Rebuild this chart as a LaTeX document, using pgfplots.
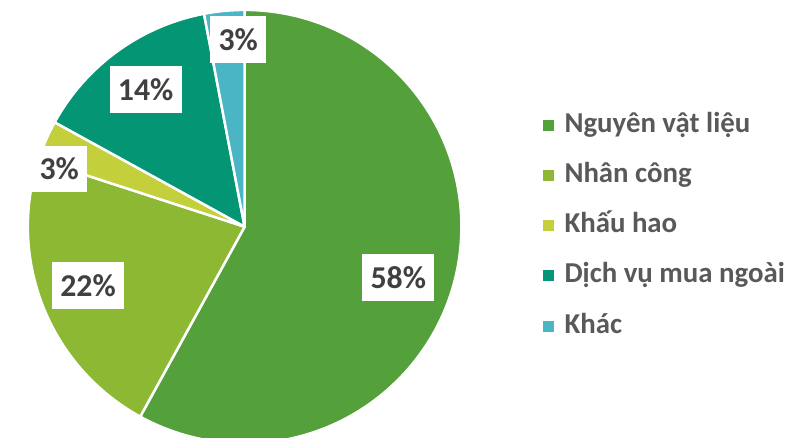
\documentclass[border=0pt]{standalone}
\usepackage{pgfplots}
\pgfplotsset{compat=1.18}
\usepackage{pgfplotstable}
\usepackage{fontspec}
\setmainfont{Carlito}
\definecolor{c0}{HTML}{54A03B}
\definecolor{c1}{HTML}{8CB834}
\definecolor{c2}{HTML}{C3CF3B}
\definecolor{c3}{HTML}{049674}
\definecolor{c4}{HTML}{4AB5C5}
\definecolor{lbl}{HTML}{404040}
\definecolor{leg}{HTML}{595959}

\begin{document}
% share (%), label box centre (px, y up)
\pgfplotstableread{
value lx ly
58 396 161
22 84 153
3 55 270
14 142 350
3 235 400
}\piedata

\xdef\cum{0}
\foreach \i in {0,...,4}{%
  \pgfplotstablegetelem{\i}{value}\of\piedata
  \xdef\v{\pgfplotsretval}%
  \pgfmathsetmacro\a{90-3.6*\cum}%
  \pgfmathsetmacro\newcum{\cum+\v}%
  \pgfmathsetmacro\b{90-3.6*\newcum}%
  \expandafter\xdef\csname sa\i\endcsname{\a}%
  \expandafter\xdef\csname sb\i\endcsname{\b}%
  \expandafter\xdef\csname v\i\endcsname{\v}%
  \pgfplotstablegetelem{\i}{lx}\of\piedata
  \expandafter\xdef\csname lx\i\endcsname{\pgfplotsretval}%
  \pgfplotstablegetelem{\i}{ly}\of\piedata
  \expandafter\xdef\csname ly\i\endcsname{\pgfplotsretval}%
  \xdef\cum{\newcum}%
}

\begin{tikzpicture}
\useasboundingbox (0,0) rectangle (790pt,440pt);
\begin{axis}[
    at={(0,0)}, anchor=south west,
    x=1pt, y=1pt,
    xmin=0, xmax=790, ymin=0, ymax=440,
    hide axis,
    scale only axis,
]
\addplot[draw=none] coordinates {(0,0) (790,440)};

% slices
\pgfplotsinvokeforeach{0,...,4}{
  \filldraw[fill=c#1, draw=white, line width=2.5pt, line join=round]
    (axis cs:241.5,212) -- +(\csname sa#1\endcsname:218pt)
    arc[start angle=\csname sa#1\endcsname, end angle=\csname sb#1\endcsname, radius=218pt] -- cycle;
}

% data labels
\pgfplotsinvokeforeach{0,...,4}{
  \node[fill=white, text=lbl, font=\fontsize{32}{32}\selectfont\bfseries,
        inner xsep=8.5pt, minimum height=47pt]
    at (axis cs:\csname lx#1\endcsname,\csname ly#1\endcsname) {\csname v#1\endcsname\%};
}

% legend
\fill[c0] (axis cs:542,308.5) rectangle (axis cs:553,319.5);
\fill[c1] (axis cs:542,258) rectangle (axis cs:553,269);
\fill[c2] (axis cs:542,207.5) rectangle (axis cs:553,218.5);
\fill[c3] (axis cs:542,157) rectangle (axis cs:553,168);
\fill[c4] (axis cs:542,106.5) rectangle (axis cs:553,117.5);
\begin{scope}[every node/.style={anchor=base west, inner sep=0pt, text=leg,
      font=\fontsize{29}{29}\selectfont\bfseries}]
\node at (axis cs:563,307) {Nguyên vật liệu};
\node at (axis cs:563,256.5) {Nhân công};
\node at (axis cs:563,206) {Khấu hao};
\node at (axis cs:563,155.5) {Dịch vụ mua ngoài};
\node at (axis cs:563,105) {Khác};
\end{scope}
\end{axis}
\end{tikzpicture}
\end{document}
